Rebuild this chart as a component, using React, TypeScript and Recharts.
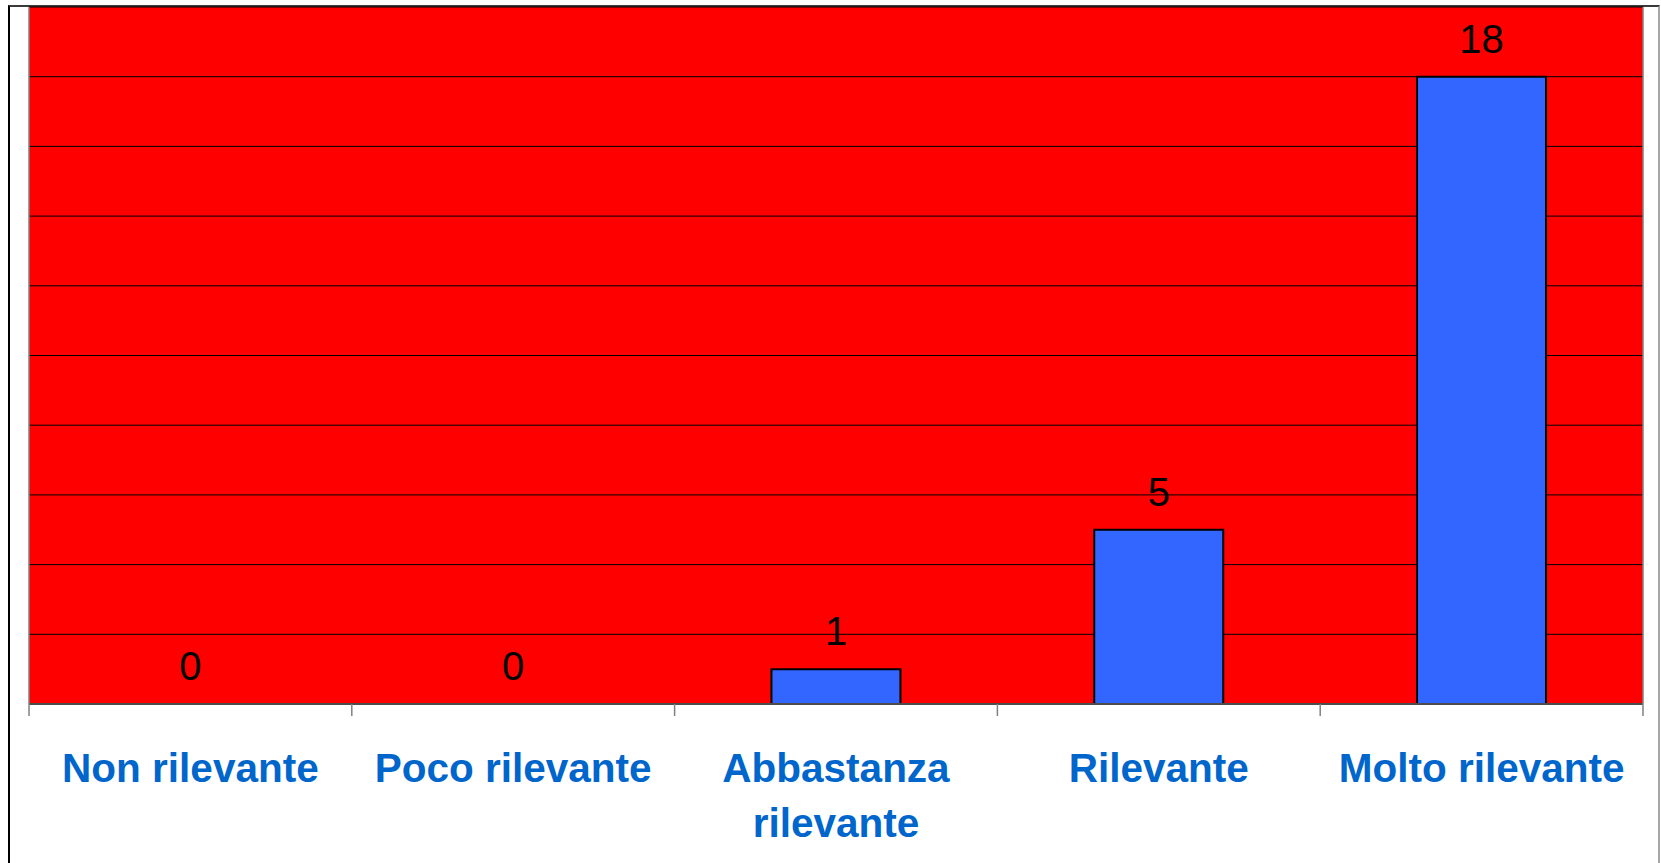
import React from "react";
import {
  ComposedChart,
  Bar,
  Line,
  XAxis,
  YAxis,
  CartesianGrid,
  LabelList,
} from "recharts";

// --- chart data ---
const categories = [
  "Non rilevante",
  "Poco rilevante",
  "Abbastanza rilevante",
  "Rilevante",
  "Molto rilevante",
];
const values = [0, 0, 1, 5, 18];
const yTicks = [0, 2, 4, 6, 8, 10, 12, 14, 16, 18, 20];

const data = categories.map((name, i) => ({ name, value: values[i] }));

const FONT = "'Liberation Sans', Arial, Helvetica, sans-serif";

// split a label into lines of at most maxChars characters
const wrapLabel = (text: string, maxChars = 16) => {
  const lines: string[] = [];
  let cur = "";
  text.split(" ").forEach((w) => {
    const next = cur ? cur + " " + w : w;
    if (next.length > maxChars && cur) {
      lines.push(cur);
      cur = w;
    } else {
      cur = next;
    }
  });
  if (cur) lines.push(cur);
  return lines;
};

// category label + tick marks on the category boundaries
const CategoryTick = (props: any) => {
  const { x, y, payload, index, visibleTicksCount, width } = props;
  const half =
    payload && payload.offset ? payload.offset : width / (2 * visibleTicksCount);
  const lines = wrapLabel(String(payload.value));
  const isLast = index === visibleTicksCount - 1;
  return (
    <g>
      <line x1={x - half} x2={x - half} y1={y} y2={y + 12} stroke="#808080" strokeWidth={1.5} />
      {isLast && (
        <line x1={x + half} x2={x + half} y1={y} y2={y + 12} stroke="#808080" strokeWidth={1.5} />
      )}
      <text
        x={x}
        y={y + 78}
        textAnchor="middle"
        fill="#0066CC"
        style={{ fontSize: 40.5, fontWeight: "bold", fontFamily: FONT }}
      >
        {lines.map((l, i) => (
          <tspan key={i} x={x} dy={i === 0 ? 0 : 55}>
            {l}
          </tspan>
        ))}
      </text>
    </g>
  );
};

// no tick text, but keeps grid lines alive
const EmptyTick = () => <g />;

export default function App() {
  return (
    <div
      style={{
        position: "absolute",
        left: 0,
        top: 0,
        width: 1661,
        height: 863,
        background: "#fff",
        overflow: "hidden",
      }}
    >
      {/* outer frame */}
      <div
        style={{
          position: "absolute",
          left: 8,
          top: 5,
          width: 1652,
          height: 870,
          boxSizing: "border-box",
          borderLeft: "2px solid #000",
          borderTop: "2px solid #3a3a3a",
          borderRight: "2px solid #a6a6a6",
        }}
      />
      <div style={{ position: "absolute", left: 0, top: 0 }}>
        <ComposedChart
          width={1661}
          height={863}
          data={data}
          margin={{ top: 7, right: 17, left: 28, bottom: 9 }}
          barCategoryGap="30%"
        >
          <CartesianGrid
            vertical={false}
            horizontalValues={yTicks}
            stroke="#000"
            fill="#FF0000"
            fillOpacity={1}
          />
          <XAxis
            dataKey="name"
            height={150}
            tickSize={0}
            tickMargin={0}
            tickLine={false}
            axisLine={{ stroke: "#4d4d4d", strokeWidth: 2 }}
            tick={<CategoryTick />}
            interval={0}
          />
          <YAxis
            width={1}
            domain={[0, 20]}
            ticks={yTicks}
            interval={0}
            tick={EmptyTick}
            tickLine={false}
            axisLine={{ stroke: "#808080", strokeWidth: 1.5 }}
          />
          <YAxis
            yAxisId="right"
            orientation="right"
            width={1}
            domain={[0, 20]}
            ticks={yTicks}
            interval={0}
            tick={EmptyTick}
            tickLine={false}
            axisLine={{ stroke: "#808080", strokeWidth: 1.5 }}
          />
          <Bar
            dataKey="value"
            fill="#3366FF"
            stroke="#000"
            strokeWidth={2}
            isAnimationActive={false}
          />
          {/* invisible series carrying the value labels (also for zero values) */}
          <Line
            dataKey="value"
            stroke="none"
            dot={false}
            activeDot={false}
            legendType="none"
            isAnimationActive={false}
          >
            <LabelList
              dataKey="value"
              position="top"
              offset={24}
              fill="#000"
              style={{ fontSize: 40, fontFamily: FONT }}
            />
          </Line>
        </ComposedChart>
      </div>
    </div>
  );
}
